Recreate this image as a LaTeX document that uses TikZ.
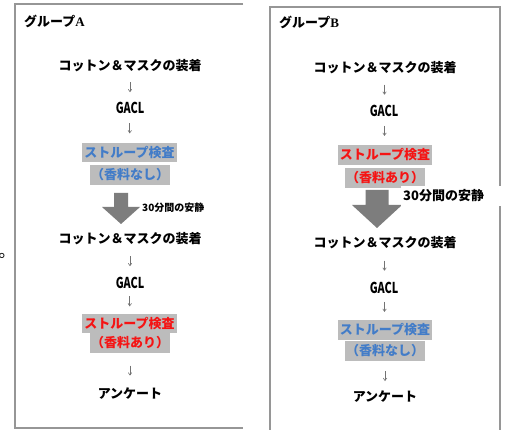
\documentclass[tikz,border=0pt]{standalone}
\usepackage{fontspec}
\setmainfont{Noto Sans CJK JP}
\newfontfamily\latinserif{Liberation Serif}
\usetikzlibrary{arrows.meta,calc}
\definecolor{framecol}{RGB}{150,150,150}
\definecolor{hlcol}{RGB}{188,188,188}
\definecolor{jblue}{RGB}{66,124,200}
\definecolor{jred}{RGB}{245,20,20}
\definecolor{bigcol}{RGB}{125,125,125}
\newcommand{\stepdown}[2]{\draw[smallarr] ($(#1.south)!0.5!(#2.north)+(0,-5)$) -- ($(#1.south)!0.5!(#2.north)+(0,5)$);}
\begin{document}
\begin{tikzpicture}[x=1pt,y=-1pt,
  txt/.style={font=\bfseries\fontsize{13}{13}\selectfont, inner sep=0pt},
  gacl/.style={font=\bfseries\fontsize{15}{15}\selectfont, inner sep=0pt},
  grp/.style={font=\bfseries\fontsize{13}{13}\selectfont, inner sep=0pt, anchor=west},
  hlbox/.style={txt, fill=hlcol},
  smallarr/.style={-{Straight Barb[length=2.5pt,width=3.5pt]}, line width=0.6pt, draw=black!55},
  bigarr/.style={fill=bigcol, draw=none},
  border/.style={draw=framecol, line width=1.2pt},
]
\useasboundingbox (0,0) rectangle (508,430);
\fill[white] (0,0) rectangle (508,430);

% frames
\draw[border] (243,4) -- (15,4) -- (15,428) -- (243,428);
\draw[border] (270,430) -- (270,7) -- (500,7) -- (500,430);

% stray mark at left edge
\node[inner sep=0pt, anchor=base west, font=\fontsize{17}{17}\selectfont] (dot) at (-1.5,257) {。};

% ---------- Group A ----------
\node[grp] (tA) at (24,21) {グループ{\latinserif A}};
\node[txt] (a1) at (130,66) {コットン＆マスクの装着};
\node[gacl] (a2) at (130,108) {\scalebox{0.72}[1]{GACL}};
\node[hlbox, minimum width=95pt, minimum height=19pt, text=jblue] (a3) at (129.5,152.5) {ストループ検査};
\node[hlbox, minimum width=80pt, minimum height=20pt, text=jblue] (a3b) at (130,175) {（香料なし）};
\fill[bigarr] (114,193) -- (128,193) -- (128,207) -- (140,207) -- (121,224) -- (102,207) -- (114,207) -- cycle;
\node[inner sep=0pt, anchor=west, font=\bfseries\fontsize{10}{10}\selectfont] (rA) at (142,208) {30分間の安静};
\node[txt] (a4) at (130,239) {コットン＆マスクの装着};
\node[gacl] (a5) at (130,283) {\scalebox{0.72}[1]{GACL}};
\node[hlbox, minimum width=95pt, minimum height=19pt, text=jred] (a6) at (129.5,323.5) {ストループ検査};
\node[hlbox, minimum width=80pt, minimum height=20pt, text=jred] (a6b) at (130,343) {（香料あり）};
\node[txt] (a7) at (130,394) {アンケート};

\stepdown{a1}{a2}
\stepdown{a2}{a3}
\stepdown{a4}{a5}
\stepdown{a5}{a6}
\stepdown{a6b}{a7}

% ---------- Group B ----------
\node[grp] (tB) at (279,22) {グループ{\latinserif B}};
\node[txt] (b1) at (385,68) {コットン＆マスクの装着};
\node[gacl] (b2) at (384,111) {\scalebox{0.72}[1]{GACL}};
\node[hlbox, minimum width=94pt, minimum height=20pt, text=jred] (b3) at (385,155) {ストループ検査};
\node[hlbox, minimum width=80pt, minimum height=20pt, text=jred] (b3b) at (385,178) {（香料あり）};
\fill[bigarr] (365.5,190) -- (388.5,190) -- (388.5,205) -- (402,205) -- (377,228) -- (352,205) -- (365.5,205) -- cycle;
\node[inner xsep=2pt, inner ysep=4pt, anchor=west, fill=white, font=\bfseries\fontsize{13}{13}\selectfont] (rB) at (401,196) {30分間の安静\hspace*{18pt}};
\node[txt] (b4) at (385,243) {コットン＆マスクの装着};
\node[gacl] (b5) at (384,288) {\scalebox{0.72}[1]{GACL}};
\node[hlbox, minimum width=94pt, minimum height=20pt, text=jblue] (b6) at (385,330) {ストループ検査};
\node[hlbox, minimum width=80pt, minimum height=20pt, text=jblue] (b6b) at (385,351) {（香料なし）};
\node[txt] (b7) at (385,397) {アンケート};

\stepdown{b1}{b2}
\stepdown{b2}{b3}
\stepdown{b4}{b5}
\stepdown{b5}{b6}
\stepdown{b6b}{b7}
\end{tikzpicture}
\end{document}
